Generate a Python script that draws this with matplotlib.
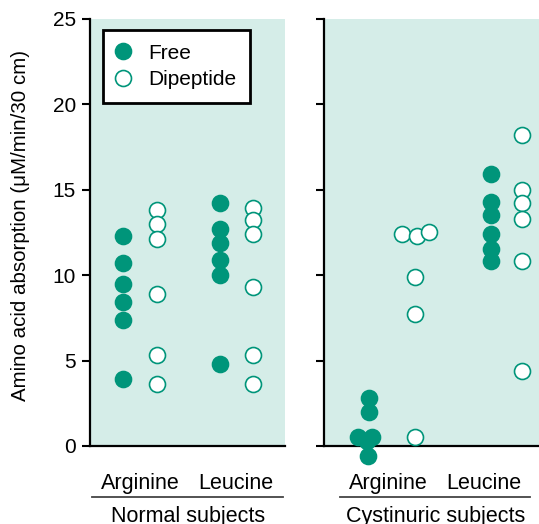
import numpy as np
import matplotlib.pyplot as plt

plt.rcParams['font.family'] = ['Liberation Sans', 'DejaVu Sans']

# values (uM/min/30 cm)
normal_arg_free = [12.3, 10.7, 9.5, 8.4, 7.4, 3.9]
normal_arg_dip = [13.8, 13.0, 12.1, 8.9, 5.3, 3.6]
normal_leu_free = [14.2, 12.7, 11.9, 10.9, 10.0, 4.8]
normal_leu_dip = [13.9, 13.2, 12.4, 9.3, 5.3, 3.6]

cyst_arg_free = [2.8, 2.0, 0.5, 0.5, 0.3, -0.6]
cyst_arg_free_dx = [0.0, 0.0, -0.32, 0.1, -0.05, -0.03]
cyst_arg_dip = [12.4, 12.3, 12.5, 9.9, 7.7, 0.5]
cyst_arg_dip_dx = [-0.4, 0.05, 0.4, 0.0, 0.0, 0.0]
cyst_leu_free = [15.9, 14.3, 13.5, 12.4, 11.5, 10.8]
cyst_leu_dip = [18.2, 15.0, 14.2, 13.3, 10.8, 4.4]

amino_acids = ['Arginine', 'Leucine']

teal = '#00957a'
bg = '#d5ede8'
ms = 11.5

fig = plt.figure(figsize=(5.39, 5.24), dpi=100)
ax1 = fig.add_axes([0.167, 0.149, 0.362, 0.815])
ax2 = fig.add_axes([0.601, 0.149, 0.399, 0.815])


def style(ax, xmax):
    ax.set_facecolor(bg)
    ax.set_xlim(0, xmax)
    ax.set_ylim(0, 25)
    ax.set_yticks([0, 5, 10, 15, 20, 25])
    ax.set_xticks([])
    for s in ['top', 'right']:
        ax.spines[s].set_visible(False)
    for s in ['left', 'bottom']:
        ax.spines[s].set_linewidth(1.6)
        ax.spines[s].set_zorder(2)
    ax.tick_params(axis='y', length=6, width=1.5, labelsize=15, pad=4)


def dots(ax, x, vals, filled, dx=None):
    xs = np.full(len(vals), x, dtype=float)
    if dx is not None:
        xs = xs + np.array(dx)
    ax.plot(xs, vals, 'o', ms=ms, mec=teal, mew=1.2,
            mfc=teal if filled else 'white', clip_on=False, zorder=3)


style(ax1, 5.75)
dots(ax1, 0.97, normal_arg_free, True)
dots(ax1, 1.97, normal_arg_dip, False)
dots(ax1, 3.82, normal_leu_free, True)
dots(ax1, 4.79, normal_leu_dip, False)

style(ax2, 6.32)
ax2.tick_params(axis='y', labelleft=False)
dots(ax2, 1.32, cyst_arg_free, True, cyst_arg_free_dx)
dots(ax2, 2.68, cyst_arg_dip, False, cyst_arg_dip_dx)
dots(ax2, 4.91, cyst_leu_free, True)
dots(ax2, 5.82, cyst_leu_dip, False)

ax1.set_ylabel('Amino acid absorption (\u03bcM/min/30 cm)', fontsize=14.8)
ax1.yaxis.set_label_coords(-0.308, 0.515)

h_free, = ax1.plot([], [], 'o', ms=ms, mfc=teal, mec=teal, mew=1.2)
h_dip, = ax1.plot([], [], 'o', ms=ms, mfc='white', mec=teal, mew=1.2)
leg = ax1.legend([h_free, h_dip], ['Free', 'Dipeptide'], loc='upper left',
                 bbox_to_anchor=(0.067, 0.974), borderaxespad=0, fontsize=15,
                 fancybox=False, framealpha=1, edgecolor='black',
                 handletextpad=0.89, handlelength=0.625, borderpad=0.65,
                 labelspacing=0.38)
leg.get_frame().set_linewidth(2)

# category labels under each panel
for ax, centers, group, (x0, x1) in [
        (ax1, [1.47, 4.30], 'Normal subjects', (0.01, 0.99)),
        (ax2, [1.88, 4.70], 'Cystinuric subjects', (0.075, 0.96))]:
    for c, name in zip(centers, amino_acids):
        ax.text(c, -2.2, name, ha='center', va='center', fontsize=15.5, clip_on=False)
    ax.plot([x0, x1], [-0.119, -0.119], color='#444444', lw=1.3,
            transform=ax.transAxes, clip_on=False)
    ax.text(0.5 * (x0 + x1), -0.166, group, ha='center', va='center',
            fontsize=15.5, transform=ax.transAxes)

fig.savefig('out.png', dpi=100)
